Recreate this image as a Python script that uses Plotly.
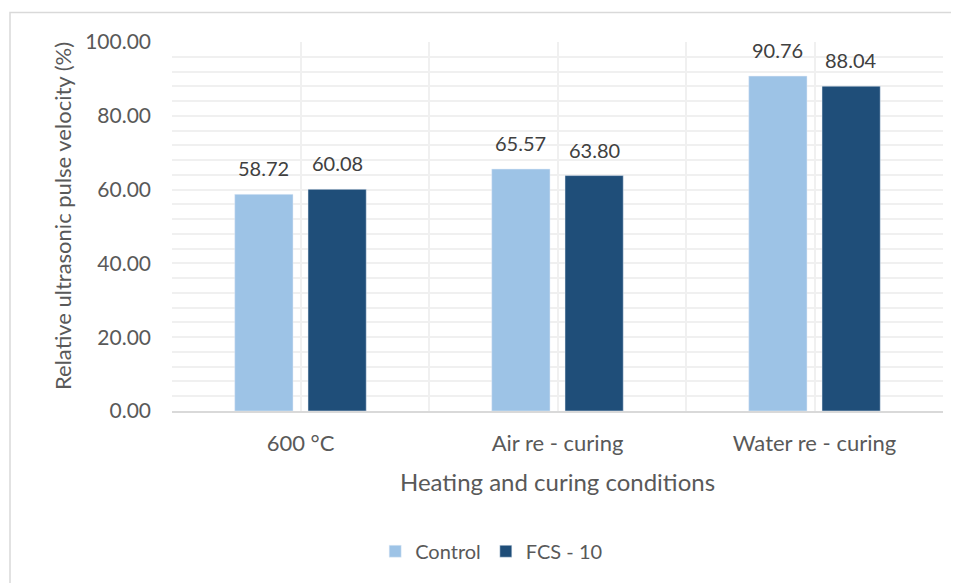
import plotly.graph_objects as go

categories = ["600 °C", "Air re - curing", "Water re - curing"]
control = [58.72, 65.57, 90.76]
fcs10 = [60.08, 63.80, 88.04]
series_names = ["Control", "FCS - 10"]
y_ticks = [0, 20, 40, 60, 80, 100]
x_title = "Heating and curing conditions"
y_title = "Relative ultrasonic pulse velocity (%)"

FONT = "Lato"
TXT = "#595959"
xpos = list(range(len(categories)))
BARGAP = 0.43
BARGROUPGAP = 0.205
slot = (1 - BARGAP) / 2

fig = go.Figure()
fig.add_trace(go.Bar(x=xpos, y=control, name=series_names[0], marker_color="#9DC3E6"))
fig.add_trace(go.Bar(x=xpos, y=fcs10, name=series_names[1], marker_color="#1F4E79"))

# page has an 8px body margin
W, H = 951, 575
L, R, T, B = 164, 16, 33.5, 171.5
pw, ph = W - L - R, H - T - B

annotations = []
for vals, off in ((control, -slot / 2), (fcs10, slot / 2)):
    for xi, v in zip(xpos, vals):
        annotations.append(dict(x=xi + off, y=v, xref="x", yref="y", text=f"{v:.2f}",
                                showarrow=False, yanchor="bottom", yshift=12,
                                font=dict(size=20, color="#404040", family=FONT)))
annotations.append(dict(x=(62 - 8 - L) / pw, y=(H - B - (216 - 8)) / ph, xref="paper", yref="paper",
                        text=y_title, textangle=-90, showarrow=False,
                        xanchor="center", yanchor="middle",
                        font=dict(size=22, color=TXT, family=FONT)))

fig.update_layout(
    width=W, height=H,
    margin=dict(l=L, r=R, t=T, b=B),
    paper_bgcolor="white", plot_bgcolor="white",
    barmode="group", bargap=BARGAP, bargroupgap=BARGROUPGAP,
    font=dict(family=FONT, size=21, color=TXT),
    showlegend=True,
    legend=dict(orientation="h", x=0.414, xanchor="center", y=-0.38, yanchor="middle",
                font=dict(size=20, color=TXT), itemwidth=30, traceorder="normal"),
    xaxis=dict(range=[-0.5, 2.5], tickvals=xpos, ticktext=categories,
               showgrid=True, gridcolor="#F0F0F0", gridwidth=2,
               minor=dict(dtick=0.5, tick0=-0.5, showgrid=True, gridcolor="#F0F0F0", gridwidth=2),
               showline=True, linecolor="#D9D9D9", linewidth=2,
               ticks="", zeroline=False, tickfont=dict(size=22, color=TXT),
               ticklabelstandoff=12, automargin=False,
               title=dict(text=x_title, font=dict(size=24, color=TXT), standoff=19)),
    yaxis=dict(range=[0, 100], tickvals=y_ticks, ticktext=[f"{v:.2f}" for v in y_ticks],
               showgrid=True, gridcolor="#F0F0F0", gridwidth=2,
               minor=dict(dtick=4, showgrid=True, gridcolor="#F0F0F0", gridwidth=2),
               showline=False, zeroline=False, ticks="",
               tickfont=dict(size=21, color=TXT), ticklabelstandoff=20, automargin=False),
    annotations=annotations,
    shapes=[dict(type="rect", xref="paper", yref="paper",
                 x0=(2 - L) / pw, x1=(W + 5 - L) / pw,
                 y0=(H - B - (H + 5)) / ph, y1=(H - B - 4) / ph,
                 line=dict(color="#D9D9D9", width=1.5), fillcolor="rgba(0,0,0,0)", layer="below")],
)

fig.write_html("out.html")
